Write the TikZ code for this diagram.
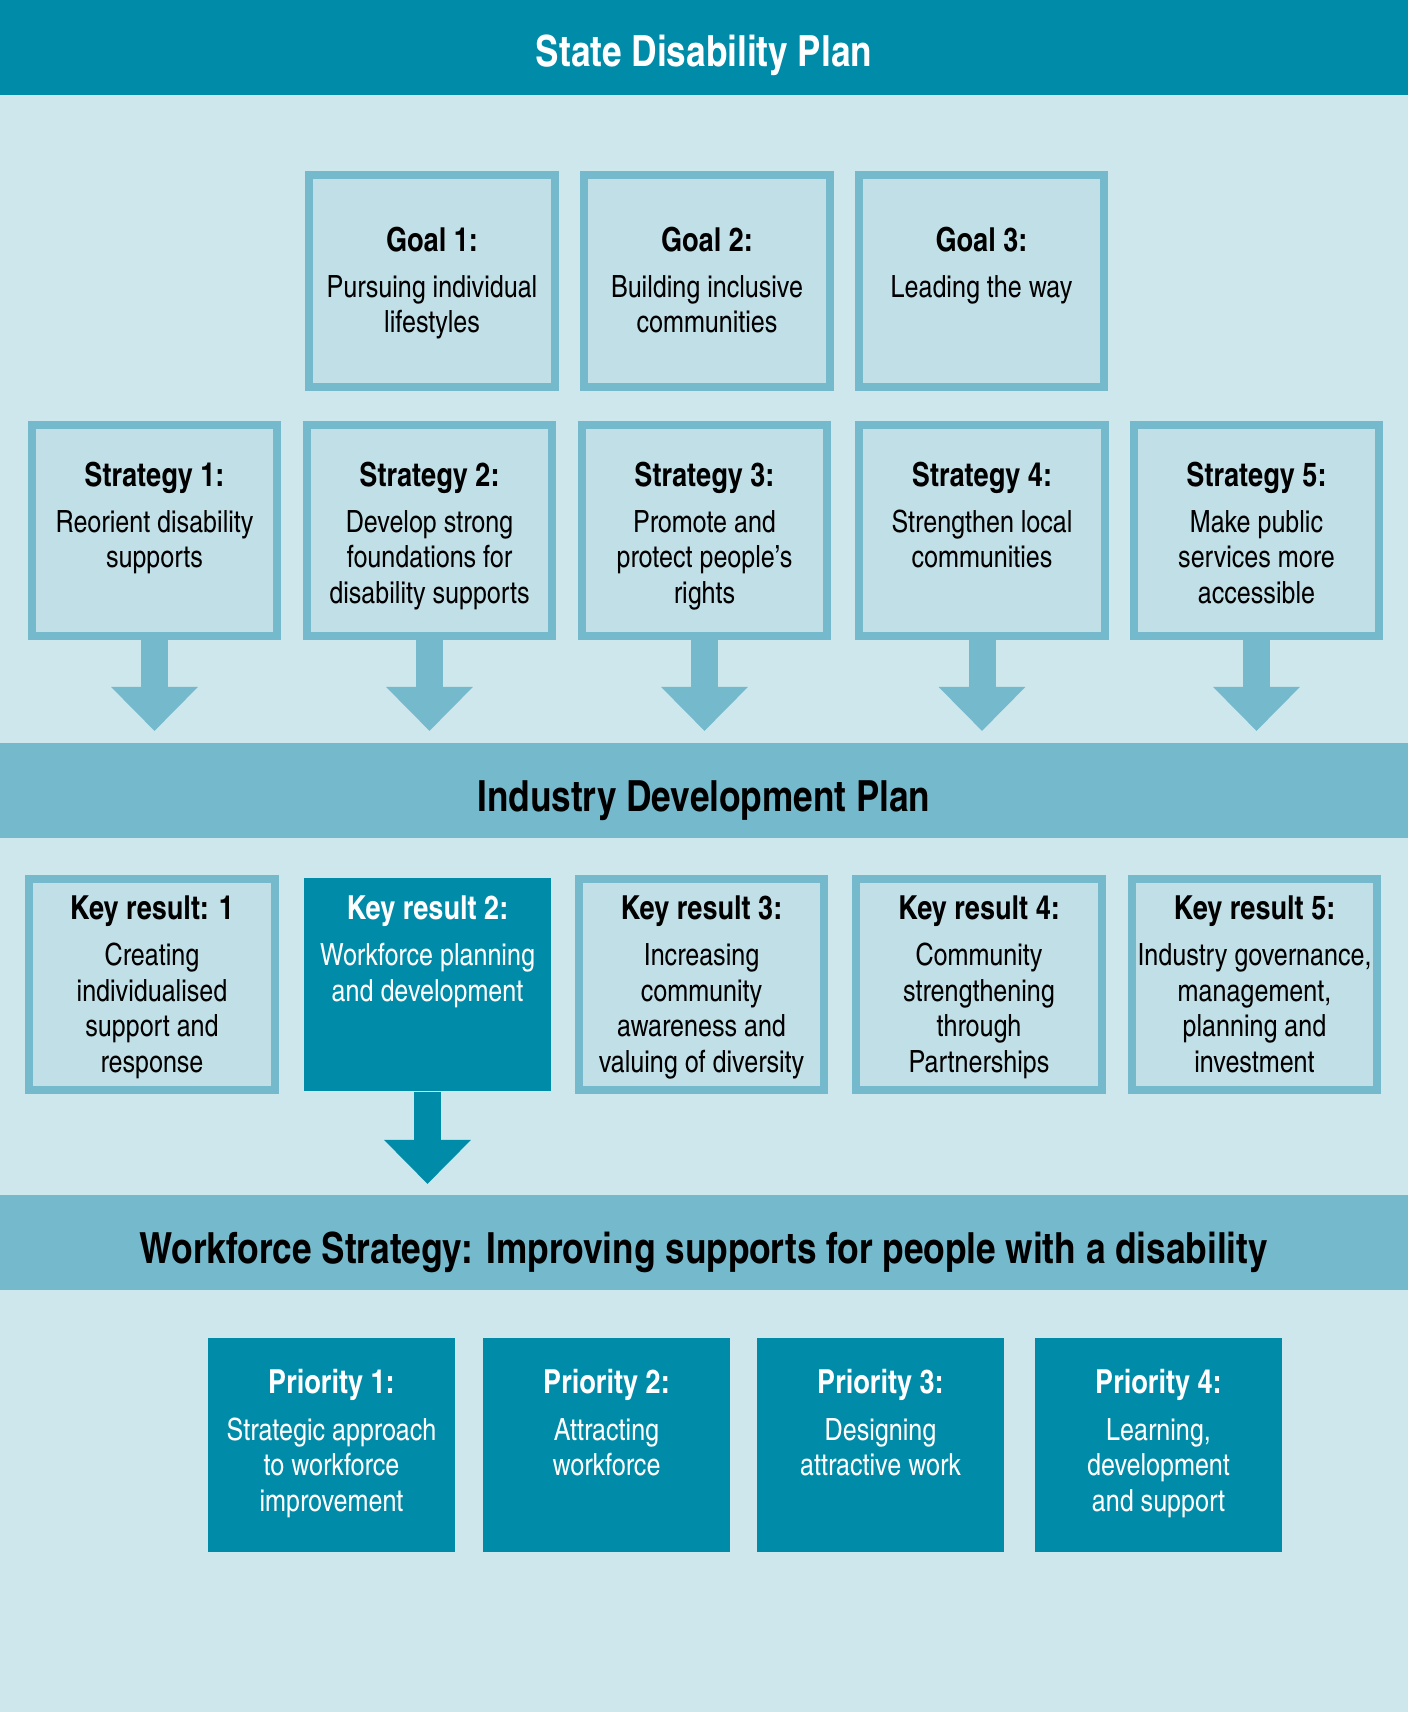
\documentclass[tikz,border=0pt]{standalone}
\usepackage{fontspec}
\setmainfont{texgyreheroscn}[Extension=.otf, UprightFont=*-regular, BoldFont=*-bold]
\usetikzlibrary{arrows.meta}

\definecolor{sdpteal}{RGB}{0,140,168}
\definecolor{sdpmid}{RGB}{116,185,204}
\definecolor{sdplight}{RGB}{206,231,236}
\definecolor{sdpbox}{RGB}{193,223,231}

% bold first line of every box
\newcommand{\boxhead}[1]{{\fontsize{9.4}{10.1}\selectfont\bfseries #1}\\[3pt]}

\tikzset{
  band/.style={fill=#1, minimum width=14.08cm, minimum height=0.95cm, inner sep=0pt,
    text height=0.42cm, text depth=0pt, font=\fontsize{12.2}{14}\selectfont\bfseries},
  outlined/.style={draw=sdpmid, fill=sdpbox, line width=0.08cm,
    minimum width=2.45cm, minimum height=2.11cm, inner sep=0pt},
  filledbox/.style={fill=sdpteal, minimum width=2.47cm, minimum height=2.13cm, inner sep=0pt},
  boxtext/.style={anchor=north, align=center, inner sep=0pt, font=\fontsize{8.7}{10.1}\selectfont},
  flow/.style={line width=0.27cm, draw=sdpmid, -{Triangle[width=0.84cm,length=0.44cm]}},
}

\begin{document}
\begin{tikzpicture}[x=0.01cm, y=-0.01cm]
  \useasboundingbox (0,0) rectangle (1408,1712);
  \fill[sdplight] (0,0) rectangle (1408,1712);

  % the three plan bands
  \node[band=sdpteal, text=white, text height=0.38cm] (sdp) at (704,47.5) {State Disability Plan};
  \node[band=sdpmid] (idp) at (704,790.5) {Industry Development Plan};
  \node[band=sdpmid] (wfs) at (704,1242.5) {Workforce Strategy: Improving supports for people with a disability};

  % goals
  \node[outlined] (g1) at (432,281) {};
  \node[outlined] (g2) at (707,281) {};
  \node[outlined] (g3) at (981.5,281) {};
  \node[boxtext] (g1t) at (432,226) {\boxhead{Goal 1:}Pursuing individual\\lifestyles};
  \node[boxtext] (g2t) at (707,226) {\boxhead{Goal 2:}Building inclusive\\communities};
  \node[boxtext] (g3t) at (981.5,226) {\boxhead{Goal 3:}Leading the way};

  % strategies
  \node[outlined] (s1) at (154.5,530.5) {};
  \node[outlined] (s2) at (429.5,530.5) {};
  \node[outlined] (s3) at (704.5,530.5) {};
  \node[outlined] (s4) at (982,530.5) {};
  \node[outlined] (s5) at (1256.5,530.5) {};
  \node[boxtext] (s1t) at (154.5,461) {\boxhead{Strategy 1:}Reorient disability\\supports};
  \node[boxtext] (s2t) at (429.5,461) {\boxhead{Strategy 2:}Develop strong\\foundations for\\disability supports};
  \node[boxtext] (s3t) at (704.5,461) {\boxhead{Strategy 3:}Promote and\\protect people’s\\rights};
  \node[boxtext] (s4t) at (982,461) {\boxhead{Strategy 4:}Strengthen local\\communities};
  \node[boxtext] (s5t) at (1256.5,461) {\boxhead{Strategy 5:}Make public\\services more\\accessible};

  \coordinate (s1tip) at (154.5,731);
  \coordinate (s2tip) at (429.5,731);
  \coordinate (s3tip) at (704.5,731);
  \coordinate (s4tip) at (982,731);
  \coordinate (s5tip) at (1256.5,731);
  \draw[flow] (s1.south) -- (s1tip);
  \draw[flow] (s2.south) -- (s2tip);
  \draw[flow] (s3.south) -- (s3tip);
  \draw[flow] (s4.south) -- (s4tip);
  \draw[flow] (s5.south) -- (s5tip);

  % key results
  \node[outlined] (k1) at (152,984.5) {};
  \node[filledbox] (k2) at (427.5,984.5) {};
  \node[outlined] (k3) at (701.5,984.5) {};
  \node[outlined] (k4) at (979,984.5) {};
  \node[outlined] (k5) at (1254.5,984.5) {};
  \node[boxtext] (k1t) at (152,895) {\boxhead{Key result: 1}Creating\\individualised\\support and\\response};
  \node[boxtext, text=white] (k2t) at (427.5,895) {\boxhead{Key result 2:}Workforce planning\\and development};
  \node[boxtext] (k3t) at (701.5,895) {\boxhead{Key result 3:}Increasing\\community\\awareness and\\valuing of diversity};
  \node[boxtext] (k4t) at (979,895) {\boxhead{Key result 4:}Community\\strengthening\\through\\Partnerships};
  \node[boxtext] (k5t) at (1254.5,895) {\boxhead{Key result 5:}Industry governance,\\management,\\planning and\\investment};

  \coordinate (k2tip) at (427.5,1184);
  \draw[flow, draw=sdpteal] (k2.south) -- (k2tip);

  % priorities
  \node[filledbox] (p1) at (331.5,1445) {};
  \node[filledbox] (p2) at (606.5,1445) {};
  \node[filledbox] (p3) at (880.5,1445) {};
  \node[filledbox] (p4) at (1158.5,1445) {};
  \node[boxtext, text=white] (p1t) at (331.5,1369) {\boxhead{Priority 1:}Strategic approach\\to workforce\\improvement};
  \node[boxtext, text=white] (p2t) at (606.5,1369) {\boxhead{Priority 2:}Attracting\\workforce};
  \node[boxtext, text=white] (p3t) at (880.5,1369) {\boxhead{Priority 3:}Designing\\attractive work};
  \node[boxtext, text=white] (p4t) at (1158.5,1369) {\boxhead{Priority 4:}Learning,\\development\\and support};
\end{tikzpicture}
\end{document}
